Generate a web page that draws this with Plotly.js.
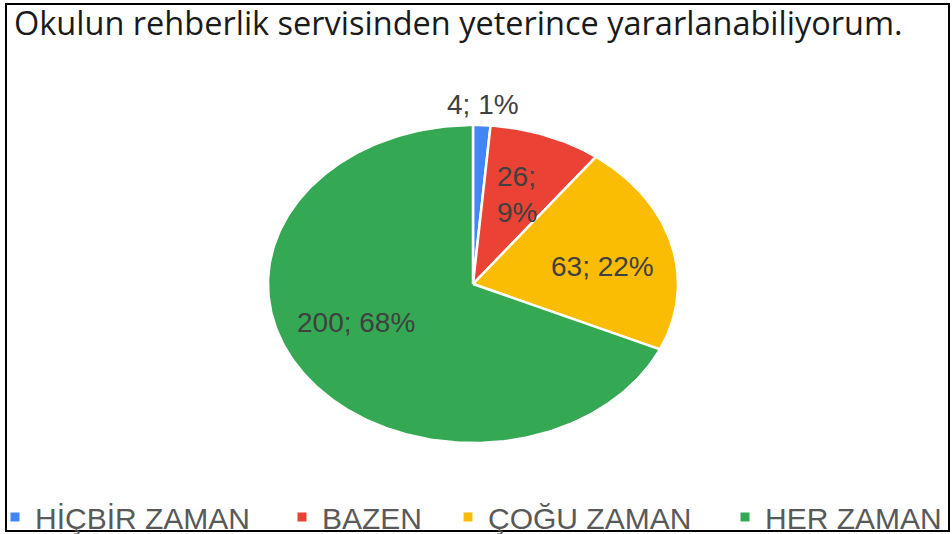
<!DOCTYPE html>
<html>
<head>
<meta charset="utf-8">
<script src="https://cdn.plot.ly/plotly-3.0.1.min.js"></script>
<style>html,body{margin:0;padding:0;background:#fff;overflow:hidden;}#chart{width:952px;height:534px;}</style>
</head>
<body>
<div id="chart"></div>
<script>
// ---- data ----
const chartTitle = "Okulun rehberlik servisinden yeterince yararlanabiliyorum.";
const categories = ["HİÇBİR ZAMAN", "BAZEN", "ÇOĞU ZAMAN", "HER ZAMAN"];
const counts = [4, 26, 63, 200];
const colors = ["#4285F4", "#EA4335", "#FBBC04", "#34A853"];

// ---- geometry / style (not data) ----
const W = 952, H = 534, cx = 473, cy = 284, rx = 205, ry = 159;
const labelR = [1.13, 0.6, 0.643, 0.62];        // radial position of each label
const labelDA = [0, 0, 4.8, 10];                 // angle nudge (deg) of each label
const legendTextX = [35, 322, 488, 765];         // px where each legend text starts

// ---- build ellipse slices (clockwise from 12 o'clock) ----
const total = counts.reduce((a, b) => a + b, 0);
const traces = [];
const annotations = [];
let cum = 0;
counts.forEach((v, i) => {
  const f0 = cum / total, f1 = (cum + v) / total;
  cum += v;
  const xs = [0], ys = [0];
  const n = Math.max(4, Math.ceil((f1 - f0) * 360));
  for (let k = 0; k <= n; k++) {
    const t = 2 * Math.PI * (f0 + (f1 - f0) * k / n);
    xs.push(Math.sin(t)); ys.push(Math.cos(t));
  }
  xs.push(0); ys.push(0);
  traces.push({
    type: "scatter", mode: "lines", x: xs, y: ys, fill: "toself",
    fillcolor: colors[i], line: {color: "#ffffff", width: 2.5},
    hoverinfo: "skip", showlegend: false
  });
  const pct = Math.round(v / total * 100);
  const frac = v / total;
  const mid = 2 * Math.PI * (f0 + f1) / 2 + labelDA[i] * Math.PI / 180;
  const r = labelR[i];
  const txt = (frac > 0.05 && frac < 0.15) ? (v + ";<br>" + pct + "%") : (v + "; " + pct + "%");
  annotations.push({
    x: r * Math.sin(mid), y: r * Math.cos(mid),
    xref: "x", yref: "y", text: txt, showarrow: false,
    align: "left",
    font: {family: "Liberation Sans, Arial, sans-serif", size: 28, color: "#404040"}
  });
});

// legend entries, one small legend per category
const layoutLegends = {};
categories.forEach((c, i) => {
  const key = i === 0 ? "legend" : "legend" + (i + 1);
  traces.push({
    type: "scatter", mode: "markers", x: [null], y: [null], name: c,
    marker: {symbol: "square", size: 9, color: colors[i]},
    hoverinfo: "skip", showlegend: true, legend: key
  });
  layoutLegends[key] = {
    orientation: "h", x: (legendTextX[i] - 40) / W, xanchor: "left",
    y: -9 / H, yanchor: "bottom",
    font: {family: "Liberation Sans, Arial, sans-serif", size: 30, color: "#595959"},
    bgcolor: "rgba(0,0,0,0)", borderwidth: 0
  };
});

const layout = Object.assign({
  width: W, height: H,
  margin: {l: 0, r: 0, t: 0, b: 0, autoexpand: false},
  paper_bgcolor: "#ffffff", plot_bgcolor: "#ffffff",
  title: {
    text: chartTitle, x: 14 / W, xanchor: "left", y: 1 - 12 / H, yanchor: "top",
    font: {family: "Open Sans, sans-serif", size: 32.5, color: "#1a1a1a"}
  },
  xaxis: {range: [-cx / rx, (W - cx) / rx], visible: false, fixedrange: true},
  yaxis: {range: [-(H - cy) / ry, cy / ry], visible: false, fixedrange: true},
  showlegend: true,
  annotations: annotations,
  shapes: [{
    type: "rect", xref: "paper", yref: "paper",
    x0: 6 / W, x1: 949 / W, y0: 1 - 531 / H, y1: 1 - 4 / H,
    line: {color: "#000000", width: 2}, fillcolor: "rgba(0,0,0,0)"
  }]
}, layoutLegends);
Plotly.newPlot("chart", traces, layout, {displayModeBar: false, staticPlot: true});
</script>
</body>
</html>
